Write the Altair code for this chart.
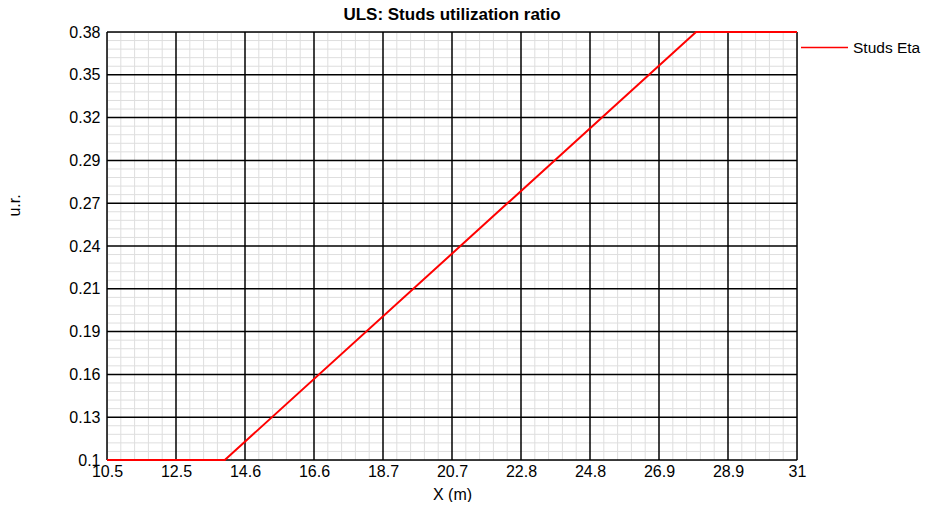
import json
import altair as alt
import pandas as pd

# ---- data -----------------------------------------------------------
x_vals = [10.5, 14.0, 28.0, 31.0]
eta_vals = [0.10, 0.10, 0.38, 0.38]
series_name = "Studs Eta"

x_tick_labels = ["10.5", "12.5", "14.6", "16.6", "18.7", "20.7",
                 "22.8", "24.8", "26.9", "28.9", "31"]
y_tick_labels = ["0.1", "0.13", "0.16", "0.19", "0.21", "0.24",
                 "0.27", "0.29", "0.32", "0.35", "0.38"]

x_min, x_max = 10.5, 31.0
y_min, y_max = 0.10, 0.38
n_major = 10
n_minor = 5

df = pd.DataFrame({"x": x_vals, "eta": eta_vals, "series": [series_name] * len(x_vals)})

x_step = (x_max - x_min) / n_major
y_step = (y_max - y_min) / n_major
x_major = [x_min + i * x_step for i in range(n_major + 1)]
y_major = [y_min + i * y_step for i in range(n_major + 1)]
x_minor = [x_min + i * x_step / n_minor for i in range(n_major * n_minor + 1) if i % n_minor]
y_minor = [y_min + i * y_step / n_minor for i in range(n_major * n_minor + 1) if i % n_minor]

FONT = "Liberation Sans"
xscale = alt.Scale(domain=[x_min, x_max], nice=False, zero=False)
yscale = alt.Scale(domain=[y_min, y_max], nice=False, zero=False)


def label_expr(lo, step, labels):
    return f"{json.dumps(labels)}[round((datum.value - {lo}) / {step})]"


xaxis = alt.Axis(values=x_major, labelExpr=label_expr(x_min, x_step, x_tick_labels),
                 grid=False, ticks=False, tickSize=0, domain=False,
                 labelPadding=3, labelFontSize=16, labelFont=FONT,
                 labelColor="#000000", labelOverlap=False, labelFlush=False,
                 title="X (m)", titleFont=FONT, titleFontSize=16,
                 titleFontWeight="normal", titleColor="#000000",
                 titlePadding=7)
yaxis = alt.Axis(values=y_major, labelExpr=label_expr(y_min, y_step, y_tick_labels),
                 grid=False, ticks=False, tickSize=0, domain=False,
                 labelPadding=7, labelFontSize=16, labelFont=FONT,
                 labelColor="#000000", labelOverlap=False, labelFlush=False,
                 labelBaseline="middle",
                 title="u.r.", titleFont=FONT, titleFontSize=16,
                 titleFontWeight="normal", titleColor="#000000",
                 titleAngle=-90, titleX=-93, titleY=173,
                 titleBaseline="middle", titleAlign="center")

X = alt.X("x:Q", scale=xscale, axis=xaxis)
Y = alt.Y("eta:Q", scale=yscale, axis=yaxis)

minor_x = alt.Chart(pd.DataFrame({"x": x_minor})).mark_rule(
    color="#dedede", strokeWidth=1).encode(x=X)
minor_y = alt.Chart(pd.DataFrame({"eta": y_minor})).mark_rule(
    color="#dedede", strokeWidth=1).encode(y=Y)
major_x = alt.Chart(pd.DataFrame({"x": x_major})).mark_rule(
    color="#000000", strokeWidth=1.5).encode(x=X)
major_y = alt.Chart(pd.DataFrame({"eta": y_major})).mark_rule(
    color="#000000", strokeWidth=1.5).encode(y=Y)

line = alt.Chart(df).mark_line(strokeWidth=2).encode(
    x=X,
    y=Y,
    color=alt.Color("series:N",
                    scale=alt.Scale(domain=[series_name], range=["#ff0000"]),
                    legend=alt.Legend(title=None, orient="none", legendX=693, legendY=-9,
                                      symbolType="stroke", symbolSize=2209,
                                      symbolStrokeWidth=1.5, labelOffset=4,
                                      labelFont=FONT, labelFontSize=15.5,
                                      labelColor="#000000")),
)

chart = alt.layer(minor_x, minor_y, major_x, major_y, line).properties(
    width=690,
    height=428,
    title=alt.TitleParams("ULS: Studs utilization ratio", font=FONT, fontSize=17,
                          fontWeight="bold", color="#000000", anchor="middle", offset=-1),
    autosize=alt.AutoSizeParams(type="none"),
    padding={"left": 99, "top": 24, "right": 128, "bottom": 42},
).configure_view(
    stroke="#000000", strokeWidth=1.5
).configure(background="#ffffff")

chart.save("out.html", embed_options={"renderer": "svg", "actions": False})
